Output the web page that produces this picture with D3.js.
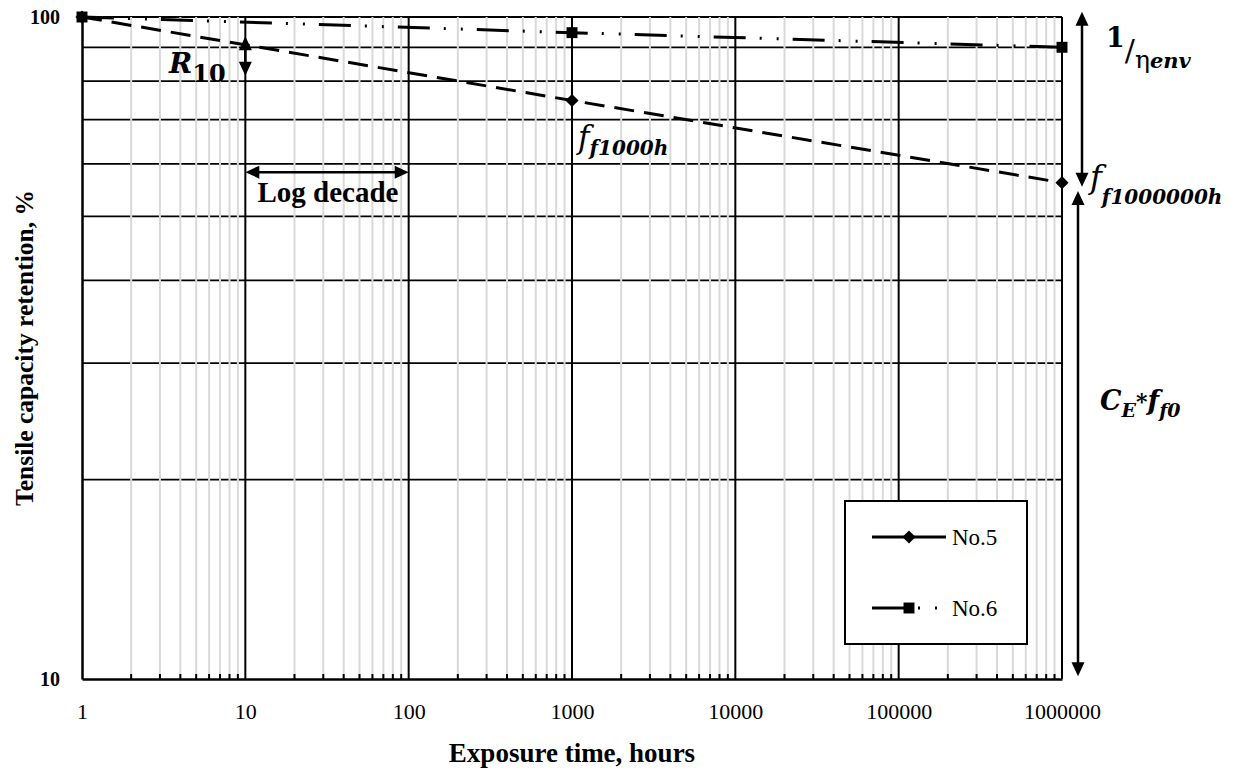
<!DOCTYPE html>
<html><head><meta charset="utf-8">
<script src="https://cdn.jsdelivr.net/npm/d3@7/dist/d3.min.js"></script>
<style>body{margin:0;background:#fff}svg{display:block}</style>
</head><body><svg id="c" width="1241" height="771"></svg>
<script>
// Exposure data (hours vs. tensile capacity retention, %)
const hours = [1, 1000, 1000000];
const no5 = [100, 74.8, 56.2];
const no6 = [100, 94.7, 90.0];
const seriesNames = ["No.5", "No.6"];
const xTickValues = [1, 10, 100, 1000, 10000, 100000, 1000000];
const yTickValues = [10, 100];
const yGridValues = [20, 30, 40, 50, 60, 70, 80, 90, 100];

const plot = {left: 82, right: 1062, top: 17, bottom: 679};
const serif = "'Liberation Serif','Times New Roman',serif";
const mathFont = "'DejaVu Serif',serif";

const svg = d3.select("#c");
const x = d3.scaleLog().domain([1, 1e6]).range([plot.left, plot.right]);
const y = d3.scaleLog().domain([10, 100]).range([plot.bottom, plot.top]);

// minor decade positions 2..9
const minors = [];
for (let d = 1; d < 1e6; d *= 10) for (let k = 2; k <= 9; k++) minors.push(d * k);

const grid = svg.append("g");
// horizontal gridlines (black)
grid.selectAll("line.h").data(yGridValues).join("line")
  .attr("x1", plot.left).attr("x2", plot.right)
  .attr("y1", d => y(d)).attr("y2", d => y(d))
  .attr("stroke", "#000").attr("stroke-width", 1.8);
// minor verticals (light grey)
grid.selectAll("line.m").data(minors).join("line")
  .attr("x1", d => x(d)).attr("x2", d => x(d))
  .attr("y1", plot.top).attr("y2", plot.bottom)
  .attr("stroke", "#d9d9d9").attr("stroke-width", 2);
// major verticals (black)
grid.selectAll("line.M").data(xTickValues.slice(1)).join("line")
  .attr("x1", d => x(d)).attr("x2", d => x(d))
  .attr("y1", plot.top).attr("y2", plot.bottom)
  .attr("stroke", "#000").attr("stroke-width", 2);
// minor tick marks on the bottom axis
grid.selectAll("line.t").data(minors).join("line")
  .attr("x1", d => x(d)).attr("x2", d => x(d))
  .attr("y1", plot.bottom).attr("y2", plot.bottom - 5)
  .attr("stroke", "#000").attr("stroke-width", 2);

// axes
const xAxis = svg.append("g").attr("transform", `translate(0,${plot.bottom})`)
  .call(d3.axisBottom(x).tickValues(xTickValues).tickFormat(d3.format("d")).tickSize(0).tickPadding(24));
xAxis.select(".domain").attr("stroke", "#000").attr("stroke-width", 2.5);
xAxis.selectAll("text").attr("font-family", serif).attr("font-size", 22).attr("fill", "#000");

const yAxis = svg.append("g").attr("transform", `translate(${plot.left},0)`)
  .call(d3.axisLeft(y).tickValues(yTickValues).tickFormat(d3.format("d")).tickSize(0).tickPadding(22));
yAxis.select(".domain").attr("stroke", "#000").attr("stroke-width", 2.5);
yAxis.selectAll("text").attr("font-family", serif).attr("font-size", 20)
  .attr("font-weight", "bold").attr("fill", "#000");

// axis titles
svg.append("text").attr("x", (plot.left + plot.right) / 2).attr("y", 762)
  .attr("text-anchor", "middle").attr("font-family", serif).attr("font-size", 27)
  .attr("font-weight", "bold").text("Exposure time, hours");
svg.append("text").attr("transform", `translate(33,${(plot.top + plot.bottom) / 2}) rotate(-90)`)
  .attr("text-anchor", "middle").attr("font-family", serif).attr("font-size", 25.5)
  .attr("font-weight", "bold").text("Tensile capacity retention, %");

// series
const dash5 = "20,10";
const dash6 = "32,14,2,15,2,14";
const line = d3.line().x(d => x(d[0])).y(d => y(d[1]));
const s5 = hours.map((h, i) => [h, no5[i]]);
const s6 = hours.map((h, i) => [h, no6[i]]);

svg.append("path").datum(s5).attr("d", line).attr("fill", "none")
  .attr("stroke", "#000").attr("stroke-width", 3).attr("stroke-dasharray", dash5);
svg.append("path").datum(s6).attr("d", line).attr("fill", "none")
  .attr("stroke", "#000").attr("stroke-width", 3).attr("stroke-dasharray", dash6);

const diamond = d3.symbol().type(d3.symbolDiamond2).size(110);
const square = d3.symbol().type(d3.symbolSquare).size(120);
svg.selectAll("path.d5").data(s5).join("path")
  .attr("d", diamond).attr("transform", d => `translate(${x(d[0])},${y(d[1])})`).attr("fill", "#000");
svg.selectAll("path.d6").data(s6).join("path")
  .attr("d", square).attr("transform", d => `translate(${x(d[0])},${y(d[1])})`).attr("fill", "#000");

// legend
const lg = svg.append("g");
lg.append("rect").attr("x", 845).attr("y", 501).attr("width", 182).attr("height", 143)
  .attr("fill", "#fff").attr("stroke", "#000").attr("stroke-width", 2);
const legY = [537, 608];
lg.append("line").attr("x1", 872).attr("x2", 946).attr("y1", legY[0]).attr("y2", legY[0])
  .attr("stroke", "#000").attr("stroke-width", 3);
lg.append("path").attr("d", diamond).attr("transform", `translate(909,${legY[0]})`);
lg.append("line").attr("x1", 872).attr("x2", 946).attr("y1", legY[1]).attr("y2", legY[1])
  .attr("stroke", "#000").attr("stroke-width", 3).attr("stroke-dasharray", dash6);
lg.append("path").attr("d", square).attr("transform", `translate(909,${legY[1]})`);
lg.selectAll("text").data(seriesNames).join("text")
  .attr("x", 952).attr("y", (d, i) => legY[i] + 8)
  .attr("font-family", serif).attr("font-size", 23).text(d => d);

// annotation arrows
function arrow(x1, y1, x2, y2) {
  const g = svg.append("g");
  const a = Math.atan2(y2 - y1, x2 - x1), L = 14, Wd = 6.5;
  const head = (tx, ty, ang) => {
    const bx = tx - L * Math.cos(ang), by = ty - L * Math.sin(ang);
    const px = -Math.sin(ang) * Wd, py = Math.cos(ang) * Wd;
    g.append("path").attr("d", `M${tx},${ty}L${bx + px},${by + py}L${bx - px},${by - py}Z`).attr("fill", "#000");
  };
  g.append("line")
    .attr("x1", x1 + (L - 2) * Math.cos(a)).attr("y1", y1 + (L - 2) * Math.sin(a))
    .attr("x2", x2 - (L - 2) * Math.cos(a)).attr("y2", y2 - (L - 2) * Math.sin(a))
    .attr("stroke", "#000").attr("stroke-width", 2.5);
  head(x2, y2, a);
  head(x1, y1, a + Math.PI);
}
arrow(x(10), y(93.5), x(10), y(81.5));           // R10
arrow(x(10), y(58.3), x(100), y(58.3));          // log decade
arrow(x(1e6) + 20, y(101.8), x(1e6) + 20, y(55.4));
arrow(x(1e6) + 16, y(54.6), x(1e6) + 16, y(10.1));

// annotation labels
function label(px, py, parts) {
  const t = svg.append("text").attr("x", px).attr("y", py);
  parts.forEach(p => {
    const s = t.append("tspan").text(p.t)
      .attr("font-family", p.f || mathFont).attr("font-size", p.s)
      .attr("font-weight", p.b ? "bold" : "normal")
      .attr("font-style", p.i ? "italic" : "normal");
    if (p.dy) s.attr("dy", p.dy);
    if (p.dx) s.attr("dx", p.dx);
  });
  return t;
}
label(169, 73, [{t: "R", s: 28, b: 1, i: 1}, {t: "10", s: 24, b: 1, dy: 9}]);
svg.append("text").attr("x", 328).attr("y", 202).attr("text-anchor", "middle")
  .attr("font-family", serif).attr("font-size", 29).attr("font-weight", "bold").text("Log decade");
label(578, 148, [{t: "f", s: 31, i: 1}, {t: "f1000h", s: 20, b: 1, i: 1, dy: 7}]);
label(1090, 188, [{t: "f", s: 32, i: 1}, {t: "f1000000h", s: 20, b: 1, i: 1, dy: 16}]);
label(1106, 47, [{t: "1", s: 27, b: 1}, {t: "/", s: 30, dy: 14}, {t: "η", s: 25, dy: 7}, {t: "env", s: 21, b: 1, i: 1}]);
label(1100, 410, [{t: "C", s: 27, b: 1, i: 1}, {t: "E", s: 19, b: 1, i: 1, dy: 7}, {t: "*", s: 22, b: 1, dy: -8}, {t: "f", s: 27, b: 1, i: 1, dy: 1}, {t: "f0", s: 19, b: 1, i: 1, dy: 7}]);
</script>
</body></html>
